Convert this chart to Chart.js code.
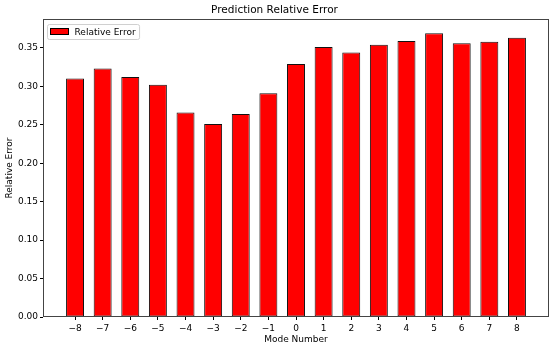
<!DOCTYPE html>
<html>
<head>
<meta charset="utf-8">
<script src="https://cdn.jsdelivr.net/npm/chart.js@4"></script>
<style>
  html, body { margin: 0; padding: 0; background: #fff; }
  #wrap { width: 550px; height: 348px; }
</style>
</head>
<body>
<div id="wrap"><canvas id="chart"></canvas></div>
<script>
// data
var modes = [-8, -7, -6, -5, -4, -3, -2, -1, 0, 1, 2, 3, 4, 5, 6, 7, 8];
var relErr = [0.310, 0.323, 0.312, 0.302, 0.266, 0.251, 0.264, 0.291, 0.329,
              0.351, 0.344, 0.354, 0.359, 0.369, 0.356, 0.358, 0.363];
var yTicks = [0, 0.05, 0.10, 0.15, 0.20, 0.25, 0.30, 0.35];

var FONT = "'DejaVu Sans', sans-serif";

// axes frame + matplotlib style legend box
var frame = {
  id: 'frame',
  afterDraw: function(chart) {
    var ctx = chart.ctx, a = chart.chartArea;
    ctx.save();
    ctx.strokeStyle = '#444';
    ctx.lineWidth = 1;
    ctx.strokeRect(Math.round(a.left) + 0.5, Math.round(a.top) + 0.5,
      Math.round(a.right - a.left) - 1, Math.round(a.bottom - a.top) - 1);

    var ds = chart.data.datasets[0];
    ctx.font = '9px ' + FONT;
    var tw = ctx.measureText(ds.label).width;
    var x = a.left + 4.5, y = a.top + 5.5, w = tw + 31, h = 15;
    ctx.fillStyle = 'rgba(255,255,255,0.8)';
    ctx.strokeStyle = '#d0d0d0';
    ctx.beginPath();
    ctx.roundRect(x, y, w, h, 2);
    ctx.fill();
    ctx.stroke();
    ctx.fillStyle = ds.backgroundColor;
    ctx.strokeStyle = '#000';
    ctx.fillRect(x + 3, y + 4, 18, 6);
    ctx.strokeRect(x + 3, y + 4, 18, 6);
    ctx.fillStyle = '#000';
    ctx.textBaseline = 'middle';
    ctx.fillText(ds.label, x + 27, y + h / 2 + 0.5);
    ctx.restore();
  }
};

new Chart(document.getElementById('chart'), {
  type: 'bar',
  data: {
    datasets: [{
      label: 'Relative Error',
      data: modes.map(function(m, i) { return { x: m, y: relErr[i] }; }),
      backgroundColor: '#ff0000',
      borderColor: '#111',
      borderWidth: 1,
      borderSkipped: false,
      barPercentage: 0.65,
      categoryPercentage: 1
    }]
  },
  options: {
    responsive: true,
    maintainAspectRatio: false,
    animation: false,
    layout: { padding: { left: 0, right: 1, top: 0, bottom: 0 } },
    plugins: {
      legend: { display: false },
      tooltip: { enabled: false },
      title: {
        display: true,
        text: 'Prediction Relative Error',
        color: '#000',
        font: { family: FONT, size: 10.5, weight: 'normal' },
        padding: { top: 4, bottom: 2.4 }
      }
    },
    scales: {
      x: {
        type: 'linear',
        offset: false,
        min: -9.16,
        max: 9.16,
        afterBuildTicks: function(s) { s.ticks = modes.map(function(v) { return { value: v }; }); },
        afterFit: function(s) { s.height = 31; },
        grid: { drawOnChartArea: false, tickLength: 3, tickColor: '#000', offset: false },
        border: { display: false },
        ticks: {
          color: '#000',
          padding: 3,
          maxRotation: 0,
          autoSkip: false,
          font: { family: FONT, size: 9 },
          callback: function(v) { return String(v).replace('-', '\u2212'); }
        },
        title: {
          display: true,
          text: 'Mode Number',
          color: '#000',
          font: { family: FONT, size: 9 },
          padding: { top: 2, bottom: 3 }
        }
      },
      y: {
        min: 0,
        max: 0.3875,
        afterBuildTicks: function(s) { s.ticks = yTicks.map(function(v) { return { value: v }; }); },
        afterFit: function(s) { s.width = 43; },
        grid: { drawOnChartArea: false, tickLength: 3, tickColor: '#000' },
        border: { display: false },
        ticks: {
          color: '#000',
          padding: 2,
          font: { family: FONT, size: 9 },
          callback: function(v) { return Number(v).toFixed(2); }
        },
        title: {
          display: true,
          text: 'Relative Error',
          color: '#000',
          font: { family: FONT, size: 9 },
          padding: { top: 4, bottom: 2 }
        }
      }
    }
  },
  plugins: [frame]
});
</script>
</body>
</html>
